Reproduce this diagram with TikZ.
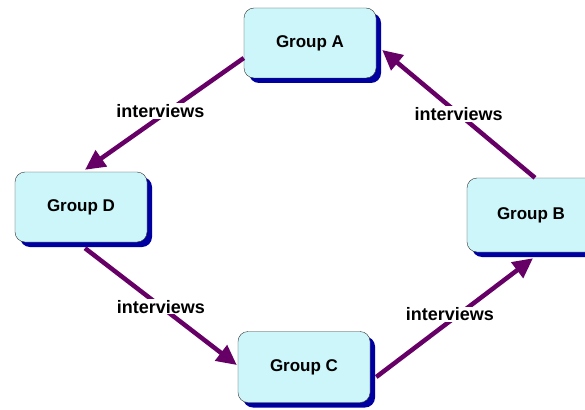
\documentclass[tikz,border=0pt]{standalone}
\usepackage{fontspec}
\setmainfont{Liberation Sans}
\usetikzlibrary{arrows.meta,shadows}
\definecolor{boxfill}{HTML}{CCF6FA}
\definecolor{boxshadow}{HTML}{0000A0}
\definecolor{linkpurple}{HTML}{660066}
\begin{document}
\begin{tikzpicture}[x=1pt,y=-1pt,
  group/.style={draw=black!80,thin,fill=boxfill,rounded corners=10pt,
    minimum width=132pt,minimum height=70pt,
    font=\fontsize{17}{20}\selectfont\bfseries,
    drop shadow={shadow xshift=5pt,shadow yshift=-5pt,fill=boxshadow,opacity=1}},
  link/.style={draw=linkpurple,line width=4.5pt,
    -{Triangle[length=20pt,width=19pt]}},
  lbl/.style={fill=white,inner sep=1pt,font=\fontsize{18}{20}\selectfont\bfseries}]
  \useasboundingbox (0,0) rectangle (585,409);
  \node[group] (ga) at (310,43) {Group A};
  \node[group,minimum width=128pt,minimum height=74pt] (gb) at (531,215) {Group B};
  \node[group,minimum height=71pt] (gc) at (304,367) {Group C};
  \node[group] (gd) at (81,207) {Group D};
  % interviews
  \draw[link] ([yshift=-15pt]ga.west) -- ([xshift=4pt,yshift=2pt]gd.north)
    node[lbl,midway,xshift=-4pt,yshift=3pt] (l1) {interviews};
  \draw[link] ([xshift=4pt]gb.north) -- ([xshift=6pt,yshift=-7pt]ga.east)
    node[lbl,midway] (l2) {interviews};
  \draw[link] ([xshift=4pt,yshift=-6pt]gd.south) -- ([xshift=-1pt,yshift=2pt]gc.west)
    node[lbl,midway] (l3) {interviews};
  \draw[link] ([xshift=6pt,yshift=-10pt]gc.east) -- ([xshift=2pt,yshift=-6pt]gb.south)
    node[lbl,pos=0.47,yshift=7pt] (l4) {interviews};
\end{tikzpicture}
\end{document}
